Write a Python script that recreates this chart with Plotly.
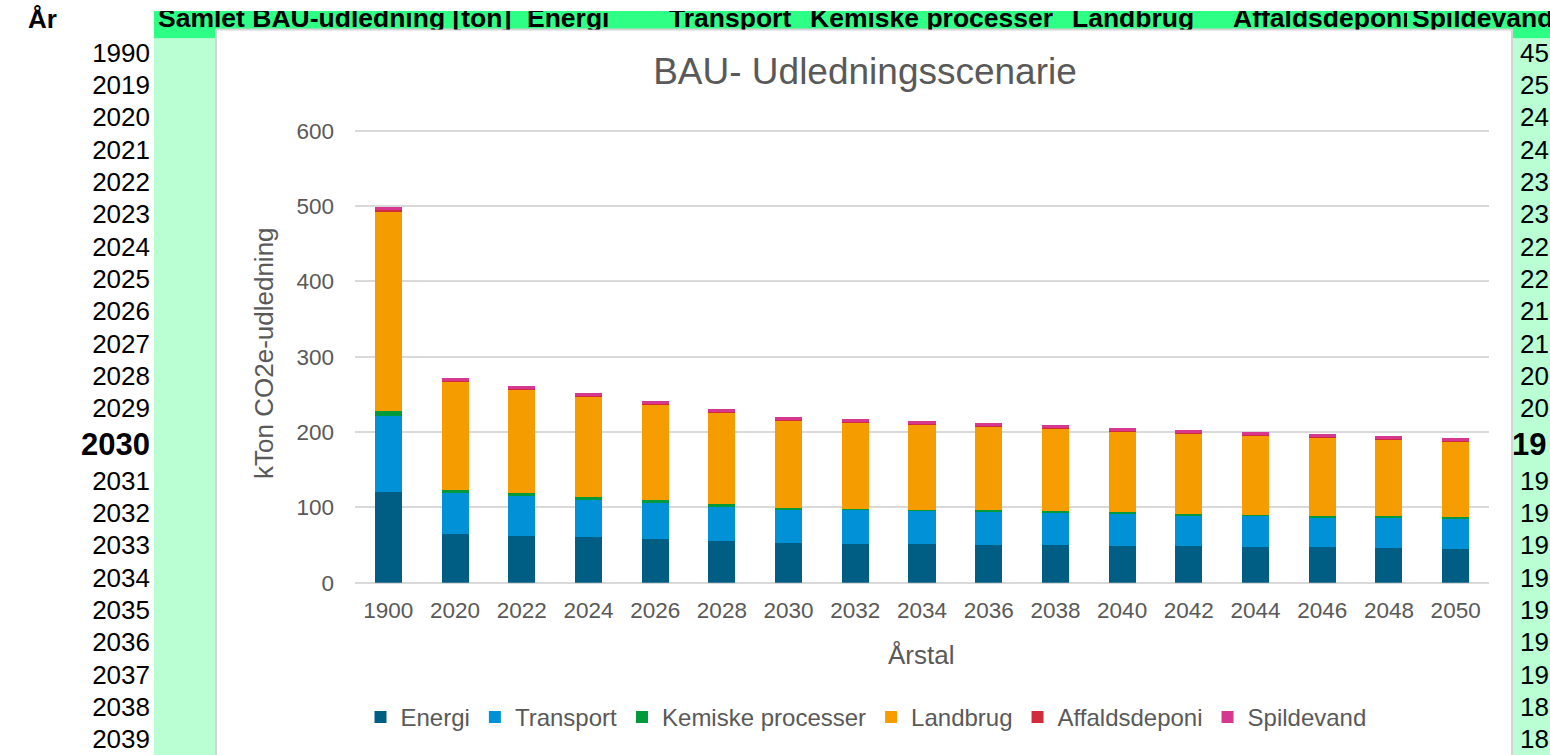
import plotly.graph_objects as go

W = 1550
HF = 780          # figure height in px
# observed mapping of the photographed page: photo_y = A_OFF + B_SC * figure_y
A_OFF, B_SC = 9.5, 0.968

# ---------------- chart data (kTon CO2e) ----------------
categories = ["1900", "2020", "2022", "2024", "2026", "2028", "2030", "2032", "2034",
              "2036", "2038", "2040", "2042", "2044", "2046", "2048", "2050"]
energi = [120.0, 64.2, 61.5, 60.2, 57.5, 54.9, 52.2, 50.9, 50.9, 49.6, 49.6, 48.3, 48.3, 46.9, 46.9, 45.6, 44.3]
transport = [100.9, 55.8, 53.6, 50.5, 49.2, 46.5, 45.2, 45.6, 44.3, 44.2, 42.9, 42.4, 41.1, 41.6, 39.9, 39.8, 39.8]
kemiske = [6.6, 2.6, 3.5, 2.6, 2.6, 2.6, 1.3, 1.3, 1.3, 2.3, 2.2, 2.7, 1.3, 1.4, 1.7, 2.7, 2.7]
landbrug = [264.3, 144.8, 138.1, 134.2, 127.5, 122.2, 116.9, 115.1, 113.8, 111.5, 110.3, 107.6, 107.6, 105.8, 104.5, 102.2, 100.9]
affald = [3.1, 0.4, 0.4, 0.4, 0.4, 0.4, 0.4, 0.4, 0.4, 0.4, 0.4, 0.4, 0.4, 0.4, 0.4, 0.4, 0.4]
spildevand = [3.5, 3.6, 3.6, 3.6, 3.6, 3.6, 3.6, 3.6, 3.6, 3.6, 3.6, 3.6, 3.6, 3.6, 3.6, 3.6, 3.6]

series_names = ["Energi", "Transport", "Kemiske processer", "Landbrug", "Affaldsdeponi", "Spildevand"]
series_colors = ["#005E85", "#0091D6", "#009A3C", "#F59C00", "#D22B3C", "#D6378F"]

# ---------------- spreadsheet texts ----------------
header_labels = ["Samlet BAU-udledning [ton]", "Energi", "Transport", "Kemiske processer",
                 "Landbrug", "Spildevand"]
header_x = [158, 527, 669, 810, 1072, 1412]
clipped_label = "Affaldsdeponi"
clipped_x = 1233
clip_end = 1407
year_rows = ["1990", "2019", "2020", "2021", "2022", "2023", "2024", "2025", "2026", "2027",
             "2028", "2029", "2030", "2031", "2032", "2033", "2034", "2035", "2036", "2037",
             "2038", "2039"]
right_col = ["45", "25", "24", "24", "23", "23", "22", "22", "21", "21", "20", "20",
             "19", "19", "19", "19", "19", "19", "19", "19", "18", "18"]
bold_row = "2030"

FONT = "Liberation Sans, Arial, sans-serif"
GREY = "#595959"


def px(x):
    return x / W


def fy(t):
    """photo pixel row -> figure pixel row"""
    return (t - A_OFF) / B_SC


def py(t):
    """photo pixel row -> paper fraction"""
    return (HF - fy(t)) / HF


PHOTO_TOP = A_OFF
PHOTO_BOTTOM = A_OFF + B_SC * HF

fig = go.Figure()

values = [energi, transport, kemiske, landbrug, affald, spildevand]
for name, vals, col in zip(series_names, values, series_colors):
    fig.add_trace(go.Bar(
        x=categories, y=vals, name=name, width=0.405,
        marker=dict(color=col, line=dict(width=0)),
        xaxis="x", yaxis="y",
    ))

# row centres of the sheet (photo pixels)
row_h = [40 if r == bold_row else 32.3 for r in year_rows]
centres = []
c = 53.5
for i, h in enumerate(row_h):
    if i > 0:
        c += (row_h[i - 1] + h) / 2
    centres.append(c)

normal_idx = [i for i, r in enumerate(year_rows) if r != bold_row]
bold_idx = [i for i, r in enumerate(year_rows) if r == bold_row]


def text_trace(xs, ys, texts, pos, size, xa, ya, clip=False):
    return go.Scatter(x=xs, y=ys, text=texts, mode="text", textposition=pos,
                      textfont=dict(family=FONT, size=size, color="black"),
                      xaxis=xa, yaxis=ya, showlegend=False, hoverinfo="skip", cliponaxis=clip)


fig.add_trace(text_trace([150] * len(normal_idx), [centres[i] for i in normal_idx],
                         [year_rows[i] for i in normal_idx], "middle left", 26, "x2", "y2"))
fig.add_trace(text_trace([150] * len(bold_idx), [centres[i] for i in bold_idx],
                         ["<b>" + year_rows[i] + "</b>" for i in bold_idx], "middle left", 31, "x2", "y2"))
fig.add_trace(text_trace([1520] * len(normal_idx), [centres[i] for i in normal_idx],
                         [right_col[i] for i in normal_idx], "middle right", 26, "x2", "y2"))
fig.add_trace(text_trace([1512] * len(bold_idx), [centres[i] for i in bold_idx],
                         ["<b>" + right_col[i] + "</b>" for i in bold_idx], "middle right", 31, "x2", "y2"))
fig.add_trace(text_trace([28], [19.5], ["<b>År</b>"], "middle right", 26, "x2", "y2"))

# header row (clipped by the chart box)
fig.add_trace(text_trace(header_x, [19.0] * len(header_labels),
                         ["<b>" + t + "</b>" for t in header_labels], "middle right", 26.5, "x3", "y3", True))
# a header cell whose text is cut at the neighbouring cell
fig.add_trace(text_trace([clipped_x], [19.0], ["<b>" + clipped_label + "</b>"],
                         "middle right", 26.5, "x4", "y4", True))

shapes = [
    dict(type="rect", xref="paper", yref="paper", x0=px(154), x1=px(1550), y0=py(37), y1=1.0,
         fillcolor="rgb(46,255,133)", line=dict(width=0), layer="below"),
    dict(type="rect", xref="paper", yref="paper", x0=px(154), x1=px(215), y0=0, y1=py(37),
         fillcolor="rgb(185,255,211)", line=dict(width=0), layer="below"),
    dict(type="rect", xref="paper", yref="paper", x0=px(1513), x1=px(1550), y0=0, y1=py(37),
         fillcolor="rgb(185,255,211)", line=dict(width=0), layer="below"),
    dict(type="rect", xref="paper", yref="paper", x0=px(216), x1=px(1512), y0=-0.02, y1=py(28),
         fillcolor="white", line=dict(color="#D4D4D4", width=2), layer="below"),
]

annotations = [
    dict(text="kTon CO2e-udledning", xref="paper", yref="paper", x=px(264), y=py(351),
         textangle=-90, showarrow=False, font=dict(family=FONT, size=26, color=GREY),
         xanchor="center", yanchor="middle"),
    dict(text="Årstal", xref="paper", yref="paper", x=px(921), y=py(653),
         showarrow=False, font=dict(family=FONT, size=26, color=GREY),
         xanchor="center", yanchor="middle"),
]

Y0_PX, Y600_PX = 580.5, 129.0     # photo rows of 0 and 600
YMAX = 602
y_top_px = Y0_PX - (Y0_PX - Y600_PX) * YMAX / 600

fig.update_layout(
    width=W, height=HF, autosize=False,
    margin=dict(l=0, r=0, t=0, b=0, pad=0),
    paper_bgcolor="white", plot_bgcolor="rgba(0,0,0,0)",
    barmode="stack", bargap=0.6,
    font=dict(family=FONT, color=GREY),
    title=dict(text="BAU- Udledningsscenarie", x=px(865), xanchor="center",
               y=py(78), yanchor="middle", font=dict(family=FONT, size=37, color=GREY)),
    shapes=shapes, annotations=annotations,
    legend=dict(orientation="h", x=px(866), xanchor="center", y=py(715), yanchor="middle",
                font=dict(family=FONT, size=24, color=GREY), traceorder="normal",
                bgcolor="rgba(0,0,0,0)"),
    xaxis=dict(domain=[px(355), px(1489)], type="category", showgrid=False, zeroline=False,
               showline=False, ticks="", tickfont=dict(family=FONT, size=22.5, color=GREY),
               ticklabelstandoff=12, anchor="y", fixedrange=True),
    yaxis=dict(domain=[py(Y0_PX), py(y_top_px)], range=[0, YMAX], dtick=100, showgrid=True,
               gridcolor="#D9D9D9", gridwidth=1.5, zeroline=True, zerolinecolor="#D9D9D9",
               zerolinewidth=1.5, showline=False, ticks="",
               tickfont=dict(family=FONT, size=22.5, color=GREY), ticklabelstandoff=20,
               anchor="x", fixedrange=True),
    xaxis2=dict(domain=[0, 1], range=[0, W], visible=False, anchor="y2", fixedrange=True),
    yaxis2=dict(domain=[0, 1], range=[PHOTO_BOTTOM, PHOTO_TOP], visible=False, anchor="x2",
                fixedrange=True),
    xaxis3=dict(domain=[0, 1], range=[0, W], visible=False, anchor="y3", fixedrange=True),
    yaxis3=dict(domain=[py(28), 1], range=[28, PHOTO_TOP], visible=False, anchor="x3", fixedrange=True),
    xaxis4=dict(domain=[px(clipped_x), px(clip_end)], range=[clipped_x, clip_end], visible=False,
                anchor="y4", fixedrange=True),
    yaxis4=dict(domain=[py(28), 1], range=[28, PHOTO_TOP], visible=False, anchor="x4", fixedrange=True),
    showlegend=True,
)

fig.write_html(
    "out.html",
    config={"displayModeBar": False},
    post_script="document.body.style.margin='0';document.body.style.padding='0';"
                "document.documentElement.style.overflow='hidden';document.body.style.overflow='hidden';",
)
